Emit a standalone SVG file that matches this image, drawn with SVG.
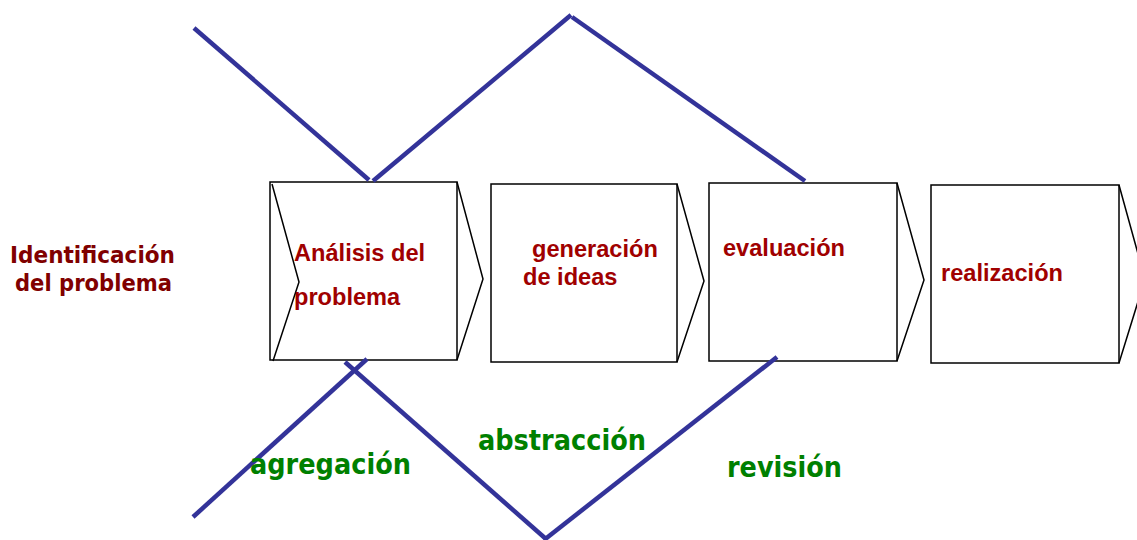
<svg xmlns="http://www.w3.org/2000/svg" width="1137" height="540" viewBox="0 0 1137 540">
  <style>
    .box { fill: #ffffff; stroke: #000000; stroke-width: 1.5; }
    .tip { fill: none; stroke: #000000; stroke-width: 1.5; stroke-linejoin: miter; }
    .step { font-family: "Liberation Sans", Arial, sans-serif; font-weight: bold; font-size: 23.6px; fill: #a00000; }
    .side { font-family: "DejaVu Sans", Verdana, sans-serif; font-weight: bold; font-size: 23px; fill: #800000; }
    .phase { font-family: "DejaVu Sans", Verdana, sans-serif; font-weight: bold; font-size: 28px; fill: #008000; }
    .conn line { stroke: #333399; stroke-width: 4.5; stroke-linecap: butt; }
  </style>
  <rect width="1137" height="540" fill="#ffffff"/>

  <g id="identificacion">
    <text class="side" x="10" y="263" textLength="165" lengthAdjust="spacingAndGlyphs">Identificación</text>
    <text class="side" x="15" y="291" textLength="157" lengthAdjust="spacingAndGlyphs">del problema</text>
  </g>

  <g id="analisis">
    <rect class="box" x="270" y="182" width="187" height="178"/>
    <polyline class="tip" points="272,184 299,282 273,361"/>
    <polyline class="tip" points="457,182 483,279 457,360"/>
    <text class="step" x="294" y="261">Análisis del</text>
    <text class="step" x="294" y="305">problema</text>
  </g>

  <g id="generacion">
    <rect class="box" x="491" y="184" width="186" height="178"/>
    <polyline class="tip" points="677,184 704,281 677,362"/>
    <text class="step" x="532" y="257">generación</text>
    <text class="step" x="523" y="285">de ideas</text>
  </g>

  <g id="evaluacion">
    <rect class="box" x="709" y="183" width="188" height="178"/>
    <polyline class="tip" points="897,183 924,280 897,361"/>
    <text class="step" x="723" y="256">evaluación</text>
  </g>

  <g id="realizacion">
    <rect class="box" x="931" y="185" width="188" height="178"/>
    <polyline class="tip" points="1119,185 1145,279 1119,363"/>
    <text class="step" x="941" y="281">realización</text>
  </g>

  <g id="connectors" class="conn">
    <line x1="194" y1="28" x2="369" y2="180"/>
    <line x1="373" y1="181" x2="571" y2="15"/>
    <line x1="572" y1="17" x2="805" y2="181"/>
    <line x1="193" y1="517" x2="367" y2="359"/>
    <line x1="345" y1="362" x2="546" y2="539"/>
    <line x1="544" y1="540" x2="777" y2="357"/>
  </g>

  <g id="labels">
    <text class="phase" x="250" y="474" textLength="161" lengthAdjust="spacingAndGlyphs">agregación</text>
    <text class="phase" x="478" y="450" textLength="168" lengthAdjust="spacingAndGlyphs">abstracción</text>
    <text class="phase" x="727" y="477" textLength="115" lengthAdjust="spacingAndGlyphs">revisión</text>
  </g>
</svg>
